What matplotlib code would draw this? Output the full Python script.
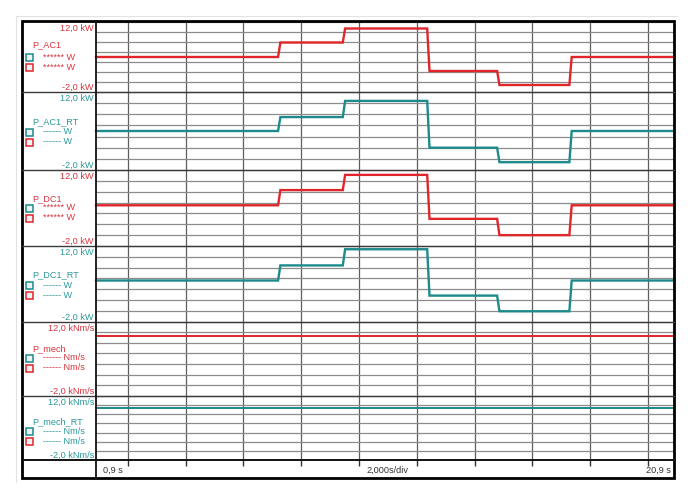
import matplotlib
matplotlib.use('Agg')
import matplotlib.pyplot as plt
from matplotlib.patches import Rectangle

plt.rcParams['font.family'] = ['Liberation Sans Narrow', 'Liberation Sans', 'DejaVu Sans']

# ---------------- data ----------------
time = [0.9, 7.20, 7.28, 9.44, 9.52, 12.36, 12.44, 14.78, 14.86, 17.28, 17.36, 20.9]
P_AC1 = [5.0, 5.0, 7.9, 7.9, 10.7, 10.7, 2.2, 2.2, -0.6, -0.6, 5.0, 5.0]
P_AC1_RT = [5.0, 5.0, 7.5, 7.5, 10.4, 10.4, 2.0, 2.0, -0.6, -0.6, 5.0, 5.0]
P_DC1 = [5.5, 5.5, 8.3, 8.3, 11.1, 11.1, 3.0, 3.0, 0.0, 0.0, 5.5, 5.5]
P_DC1_RT = [5.6, 5.6, 8.4, 8.4, 11.4, 11.4, 2.8, 2.8, -0.1, -0.1, 5.6, 5.6]
time_flat = [0.9, 20.9]
P_mech = [9.3, 9.3]
P_mech_RT = [9.4, 9.4]

names = ['P_AC1', 'P_AC1_RT', 'P_DC1', 'P_DC1_RT', 'P_mech', 'P_mech_RT']
top_labels = ['12,0 kW', '12,0 kW', '12,0 kW', '12,0 kW', '12,0 kNm/s', '12,0 kNm/s']
bot_labels = ['-2,0 kW', '-2,0 kW', '-2,0 kW', '-2,0 kW', '-2,0 kNm/s', '-2,0 kNm/s']
legend_texts = ['****** W', '------ W', '****** W', '------ W', '------ Nm/s', '------ Nm/s']
grid_times = [2, 4, 6, 8, 10, 12, 14, 16, 18, 20]
grid_values = [-2, 0, 2, 4, 6, 8, 10, 12]
t_min, t_max = 0.9, 20.9
y_min, y_max = -2, 12
time_labels = ['0,9 s', '2,000s/div', '20,9 s']

# ---------------- layout (pixels) ----------------
W, H = 700, 499
PX_L, PX_R = 96, 674
panel_top = [22, 92, 170, 246, 321.5, 396]
panel_bot = [92, 170, 246, 321.5, 396, 460]
name_y = [45, 122, 199, 275, 349, 422]
sq_y1 = [57, 132, 208, 285, 358, 431]
sq_y2 = [67, 142, 218, 295, 368, 441]

RED = '#e0252b'
TEAL = '#1d8a8b'
RED_T = '#d6343f'
TEAL_T = '#2b9899'

series = [
    (time, P_AC1, RED, RED_T),
    (time, P_AC1_RT, TEAL, TEAL_T),
    (time, P_DC1, RED, RED_T),
    (time, P_DC1_RT, TEAL, TEAL_T),
    (time_flat, P_mech, RED, RED_T),
    (time_flat, P_mech_RT, TEAL, TEAL_T),
]

fig = plt.figure(figsize=(7, 4.99), dpi=100)
fig.patch.set_facecolor('white')

for i in range(6):
    t, v, c, tc = series[i]
    ax = fig.add_axes([PX_L / W, 1 - panel_bot[i] / H, (PX_R - PX_L) / W,
                       (panel_bot[i] - panel_top[i]) / H])
    ax.set_xlim(t_min, t_max)
    ax.set_ylim(y_min, y_max)
    ax.set_xticks(grid_times)
    ax.set_yticks(grid_values)
    ax.tick_params(labelbottom=False, labelleft=False, length=0)
    if i == 5:
        ax.tick_params(axis='x', length=4, width=1, color='#333333', direction='out')
    ax.xaxis.grid(True, color='#5e5e5e', lw=0.9)
    ax.yaxis.grid(True, color='#8c8c8c', lw=0.9)
    ax.set_axisbelow(True)
    for s in ax.spines.values():
        s.set_visible(False)
    lw = 1.7 if i < 4 else 1.4
    ax.plot(t, v, color=c, lw=lw, solid_joinstyle='miter', clip_on=False)

# ---------------- overlay (frame, labels) ----------------
ov = fig.add_axes([0, 0, 1, 1], zorder=10)
ov.set_xlim(0, W)
ov.set_ylim(H, 0)
ov.axis('off')

# faint outer shadow frame
ov.plot([16, 677], [16, 16], color='#e2e2e2', lw=0.8)
ov.plot([16, 16], [16, 482], color='#e2e2e2', lw=0.8)

# panel separators
for yb in panel_bot[:5]:
    ov.plot([22, PX_R], [yb, yb], color='#3a3a3a', lw=1.0)
ov.plot([22, PX_R], [panel_bot[5], panel_bot[5]], color='#111111', lw=1.4)
ov.plot([PX_L, PX_L], [21, 478], color='#111111', lw=1.3)
ov.add_patch(Rectangle((22, 21), PX_R - 22, 478 - 21, fill=False, ec='black', lw=2.0))

fs = 6.6
for i in range(6):
    tc = series[i][3]
    ov.text(94, panel_top[i] + 6.5, top_labels[i], color=tc, fontsize=fs,
            ha='right', va='center')
    ov.text(94, panel_bot[i] - 4.5, bot_labels[i], color=tc, fontsize=fs,
            ha='right', va='center')
    ov.text(32, name_y[i], names[i], color=tc, fontsize=fs, ha='left', va='center')
    for yy, ec in ((sq_y1[i], TEAL), (sq_y2[i], RED)):
        ov.add_patch(Rectangle((26, yy - 3.5), 7, 7, fill=True, fc='#eef3f3',
                               ec=ec, lw=1.1))
        ov.text(43, yy, legend_texts[i], color=tc, fontsize=fs, ha='left', va='center')

ov.text(103, 470, time_labels[0], color='#333333', fontsize=fs, ha='left', va='center')
ov.text(387, 470, time_labels[1], color='#333333', fontsize=fs, ha='center', va='center')
ov.text(671, 470, time_labels[2], color='#333333', fontsize=fs, ha='right', va='center')

fig.savefig('out.png', dpi=100, facecolor='white')
